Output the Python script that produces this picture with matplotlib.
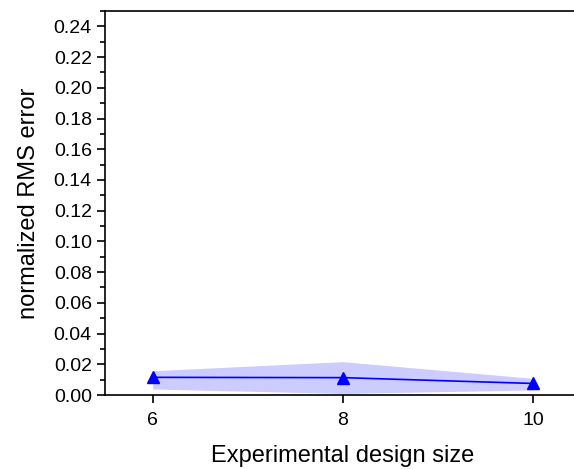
import numpy as np
import matplotlib.pyplot as plt
from matplotlib.ticker import MultipleLocator

plt.rcParams['font.family'] = ['Liberation Sans', 'DejaVu Sans']

# data
design_size = [6, 8, 10]
rms_mean = [0.0115, 0.0113, 0.0075]
rms_upper = [0.0158, 0.0217, 0.0108]
rms_lower = [0.0039, 0.0010, 0.0033]

fig = plt.figure(figsize=(5.74, 4.69), dpi=100)
# axes run slightly past the right edge, as in the reference
ax = fig.add_axes([105 / 574, 74 / 469, (581 - 105) / 574, (395 - 11) / 469])

ax.fill_between(design_size, rms_lower, rms_upper, color='blue', alpha=0.2, linewidth=0)
ax.plot(design_size, rms_mean, color='blue', marker='^', markersize=8, linewidth=1.2)

ax.set_xlim(5.5, 10.5)
ax.set_ylim(0, 0.25)
ax.set_xticks(design_size)
ax.yaxis.set_major_locator(MultipleLocator(0.02))
ax.yaxis.set_minor_locator(MultipleLocator(0.01))
ax.yaxis.set_major_formatter(plt.FormatStrFormatter('%.2f'))

ax.spines['right'].set_visible(False)
for s in ['left', 'bottom', 'top']:
    ax.spines[s].set_linewidth(1.2)
ax.tick_params(axis='both', which='major', direction='out', length=6, width=1.2, labelsize=14)
ax.tick_params(axis='x', which='major', pad=6)
ax.tick_params(axis='y', which='minor', direction='out', length=3.5, width=1.2)

ax.set_xlabel('Experimental design size', fontsize=17, labelpad=12)
ax.set_ylabel('normalized RMS error', fontsize=17, labelpad=10)

fig.savefig('out.png', dpi=100)
